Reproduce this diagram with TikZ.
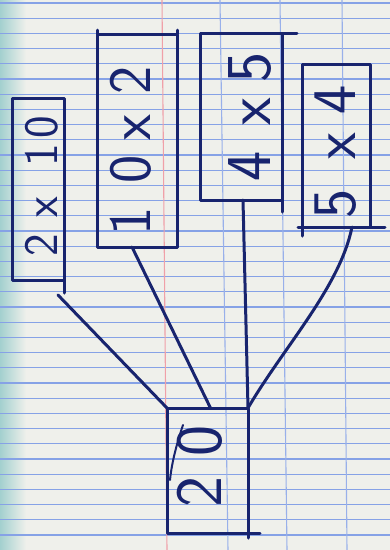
\documentclass[tikz,border=0pt]{standalone}
\usepackage{graphicx}
\definecolor{paper}{HTML}{EFF0EB}
\definecolor{ruleblue}{HTML}{86A2E6}
\definecolor{marginred}{HTML}{F0A0A8}
\definecolor{ink}{HTML}{18246E}
\definecolor{edgetint}{HTML}{A3D0CF}
\tikzset{
  pen/.style={draw=ink, line width=3pt, line cap=round, line join=round},
  box/.style={pen, rectangle, inner sep=0pt, outer sep=0pt},
  lbl/.style={text=ink, rotate=90, inner sep=0pt},
  hrule/.style={draw=ruleblue, line width=1.2pt},
  vrule/.style={draw=ruleblue!85, line width=1.1pt},
  mrule/.style={draw=marginred, line width=1.1pt},
}
\begin{document}
\begin{tikzpicture}[x=1pt,y=-1pt]
  % paper
  \fill[paper] (0,0) rectangle (390,550);
  \useasboundingbox (0,0) rectangle (390,550);
  \shade[left color=edgetint, right color=paper] (0,0) rectangle (26,550);
  \foreach \k in {0,...,35} \draw[hrule] (0,{3+15.2*\k}) -- (390,{3+15.2*\k});
  \draw[mrule] (162,0) -- (167,550);
  \draw[vrule] (220,0) -- (228,550);
  \draw[vrule] (280,0) -- (287,550);
  \draw[vrule] (342,0) -- (347,550);

  % boxes
  \node[box, minimum width=52pt, minimum height=182pt] (b1) at (38,189) {};
  \node[box, minimum width=80pt, minimum height=213pt] (b2) at (137,140.5) {};
  \node[box, minimum width=82pt, minimum height=167pt] (b3) at (241,116.5) {};
  \node[box, minimum width=68pt, minimum height=163pt] (b4) at (336,145.5) {};
  \node[box, minimum width=81pt, minimum height=125pt] (b5) at (207.5,470.5) {};

  % hand-drawn overshoots
  \draw[pen] (b2.north east) -- ++(0,-4);
  \draw[pen] (b2.north west) -- ++(0,-4);
  \draw[pen] (b3.north east) -- ++(15,0);
  \draw[pen] (b3.south east) -- ++(0,12);
  \draw[pen] (b4.south east) -- ++(15,0);
  \draw[pen] (b4.south west) -- ++(-4,0);
  \draw[pen] (b4.south west) -- ++(0,9);
  \draw[pen] (b5.south east) -- ++(12,0);
  \draw[pen] (b5.south east) -- ++(0,5);

  % labels
  \node[lbl, font=\sffamily\fontsize{48}{48}\selectfont] (t1) at (42,186)
    {2\hspace{16pt}x\hspace{30pt}1\hspace{6pt}0};
  \node[lbl, font=\sffamily\fontsize{60}{60}\selectfont] (t2) at (131,151)
    {1\hspace{24pt}0\hspace{14pt}x\hspace{20pt}2};
  \node[lbl, font=\sffamily\fontsize{64}{64}\selectfont] (t3) at (250,117)
    {4\hspace{26pt}x\hspace{16pt}5};
  \node[lbl, font=\sffamily\fontsize{62}{62}\selectfont] (t4) at (336,152)
    {5\hspace{30pt}x\hspace{18pt}4};
  \node[lbl, font=\sffamily\fontsize{66}{66}\selectfont] (t5) at (200,466)
    {2\hspace{20pt}0};
  \draw[pen, line width=2pt] (183,425) .. controls (178,440) and (172,460) .. (170,480);

  % connectors
  \draw[pen] (b1.south east) -- ++(0,13);
  \draw[pen] ([xshift=-6pt,yshift=-15pt]b1.south east) -- (b5.north west);
  \draw[pen] ([xshift=-5pt]b2.south) -- ([xshift=3pt]b5.north);
  \draw[pen] ([xshift=2pt]b3.south) -- (b5.north east);
  \draw[pen] ([xshift=16pt]b4.south) .. controls +(-12,60) and +(35,-60) .. (b5.north east);
\end{tikzpicture}
\end{document}
